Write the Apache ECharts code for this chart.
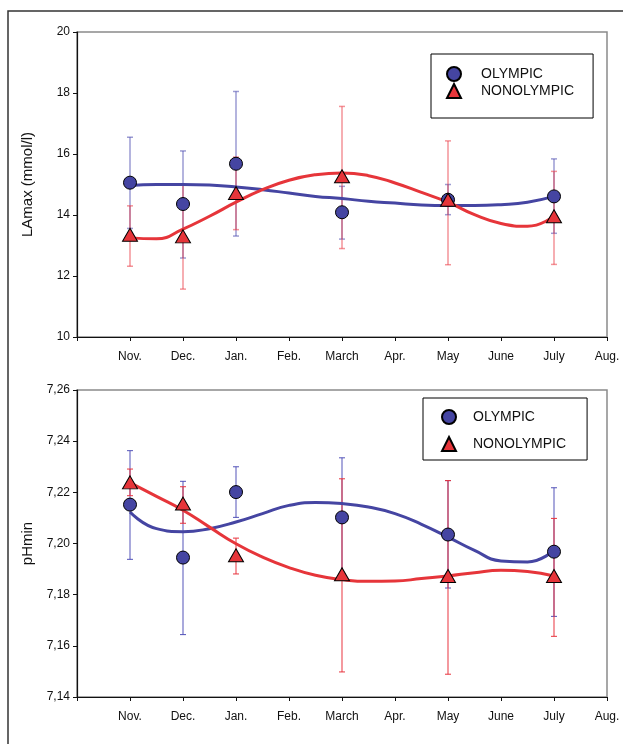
<!DOCTYPE html>
<html>
<head>
<meta charset="utf-8">
<script src="https://cdn.jsdelivr.net/npm/echarts@6/dist/echarts.min.js"></script>
<style>
html,body{margin:0;padding:0;background:#fff;}
#main{width:623px;height:744px;}
</style>
</head>
<body>
<div id="main"></div>
<script>
// ---------- data ----------
const monthLabels = ['', 'Nov.', 'Dec.', 'Jan.', 'Feb.', 'March', 'Apr.', 'May', 'June', 'July', 'Aug.'];
const obsX = [1, 2, 3, 5, 7, 9];

// LAmax (mmol/l)
const lamaxOly     = [15.06, 14.36, 15.68, 14.09, 14.50, 14.61];
const lamaxOlyLo   = [13.56, 12.59, 13.31, 13.21, 14.01, 13.40];
const lamaxOlyHi   = [16.55, 16.10, 18.05, 14.94, 15.00, 15.84];
const lamaxNon     = [13.35, 13.30, 14.72, 15.27, 14.50, 13.96];
const lamaxNonLo   = [12.32, 11.57, 13.52, 12.90, 12.37, 12.38];
const lamaxNonHi   = [14.30, 15.00, 15.90, 17.56, 16.43, 15.43];

// pHmin
const phOly        = [7.2152, 7.1945, 7.2201, 7.2102, 7.2035, 7.1968];
const phOlyLo      = [7.1938, 7.1644, 7.2102, 7.1869, 7.1826, 7.1715];
const phOlyHi      = [7.2363, 7.2243, 7.2300, 7.2335, 7.2246, 7.2218];
const phNon        = [7.2239, 7.2156, 7.1954, 7.1880, 7.1873, 7.1873];
const phNonLo      = [7.2187, 7.2079, 7.1881, 7.1498, 7.1489, 7.1637];
const phNonHi      = [7.2291, 7.2222, 7.2021, 7.2253, 7.2246, 7.2098];

// fitted trend curves, every half month (Nov. .. July)
const fitX        = [1, 1.5, 2, 2.5, 3, 3.5, 4, 4.5, 5, 5.5, 6, 6.5, 7, 7.5, 8, 8.5, 9];
const lamaxOlyFit = [14.97, 15.00, 15.00, 14.98, 14.92, 14.83, 14.72, 14.61, 14.54, 14.45, 14.39, 14.33, 14.31, 14.31, 14.34, 14.42, 14.61];
const lamaxNonFit = [13.25, 13.22, 13.54, 13.96, 14.42, 14.83, 15.14, 15.32, 15.38, 15.29, 15.05, 14.74, 14.42, 14.01, 13.72, 13.63, 13.96];
const phOlyFit    = [7.2123, 7.2058, 7.2046, 7.2058, 7.2084, 7.2117, 7.2149, 7.2160, 7.2156, 7.2143, 7.2117, 7.2075, 7.2025, 7.1973, 7.1932, 7.1928, 7.1973];
const phNonFit    = [7.2238, 7.2184, 7.2130, 7.2064, 7.1999, 7.1947, 7.1906, 7.1876, 7.1859, 7.1852, 7.1853, 7.1863, 7.1873, 7.1886, 7.1895, 7.1891, 7.1873];

// ---------- styles ----------
const BLUE = '#4545a2', RED = '#e6353a';
const FONT = 'Liberation Sans, Arial, sans-serif';

function pairs(xs, ys) { return xs.map((x, i) => [x, ys[i]]); }

function errSeries(name, idx, xs, lo, hi, color, width) {
  return {
    name: name, type: 'custom', xAxisIndex: idx, yAxisIndex: idx, z: 1,
    silent: true,
    data: xs.map((x, i) => [x, lo[i], hi[i]]),
    encode: { x: 0, y: [1, 2] },
    renderItem: function (params, api) {
      const x = api.value(0);
      const a = api.coord([x, api.value(1)]);
      const b = api.coord([x, api.value(2)]);
      const hw = 3;
      const st = { stroke: color, lineWidth: width };
      return {
        type: 'group',
        children: [
          { type: 'line', shape: { x1: a[0], y1: a[1], x2: b[0], y2: b[1] }, style: st },
          { type: 'line', shape: { x1: a[0] - hw, y1: a[1], x2: a[0] + hw, y2: a[1] }, style: st },
          { type: 'line', shape: { x1: b[0] - hw, y1: b[1], x2: b[0] + hw, y2: b[1] }, style: st }
        ]
      };
    }
  };
}

function fitSeries(name, idx, xs, ys, color) {
  return {
    name: name, type: 'line', xAxisIndex: idx, yAxisIndex: idx, z: 2,
    data: pairs(xs, ys), smooth: 0.5, showSymbol: false, symbol: 'none',
    lineStyle: { color: color, width: 3 }, silent: true
  };
}

function markerSeries(name, idx, xs, ys, color, symbol, size, z) {
  return {
    name: name, type: 'scatter', xAxisIndex: idx, yAxisIndex: idx, z: z,
    data: pairs(xs, ys), symbol: symbol, symbolSize: size,
    itemStyle: { color: color, borderColor: '#000', borderWidth: 1, opacity: 1 }
  };
}

function xAxis(idx) {
  return {
    type: 'value', gridIndex: idx, min: 0, max: 10, interval: 1,
    axisLine: { show: true, onZero: false, lineStyle: { color: '#111', width: 1.2 } },
    axisTick: { show: true, length: 4, lineStyle: { color: '#111' } },
    splitLine: { show: false },
    axisLabel: {
      margin: 14, color: '#111', fontSize: 12, fontFamily: FONT,
      showMinLabel: true, showMaxLabel: true,
      formatter: v => monthLabels[Math.round(v)] || ''
    }
  };
}

function yAxis(idx, min, max, interval, name, fmt) {
  return {
    type: 'value', gridIndex: idx, min: min, max: max, interval: interval,
    name: name, nameLocation: 'middle', nameGap: 42, nameRotate: 90,
    nameTextStyle: { color: '#111', fontSize: 15, fontFamily: FONT },
    axisLine: { show: true, lineStyle: { color: '#111', width: 1.2 } },
    axisTick: { show: true, length: 4, lineStyle: { color: '#111' } },
    splitLine: { show: false },
    axisLabel: { margin: 7, color: '#111', fontSize: 12, fontFamily: FONT, formatter: fmt }
  };
}

const chart = echarts.init(document.getElementById('main'), null, { renderer: 'canvas' });

const option = {
  animation: false,
  backgroundColor: '#fff',
  grid: [
    { left: 77, top: 32, width: 530, height: 305, show: true, borderColor: '#8a8a8a', borderWidth: 1.5, backgroundColor: 'transparent' },
    { left: 77, top: 390, width: 530, height: 307, show: true, borderColor: '#8a8a8a', borderWidth: 1.5, backgroundColor: 'transparent' }
  ],
  xAxis: [xAxis(0), xAxis(1)],
  yAxis: [
    yAxis(0, 10, 20, 2, 'LAmax (mmol/l)', v => String(v)),
    yAxis(1, 7.14, 7.26, 0.02, 'pHmin', v => v.toFixed(2).replace('.', ','))
  ],
  legend: [
    {
      left: 431, top: 54, orient: 'vertical',
      data: ['OLYMPIC', 'NONOLYMPIC'],
      padding: [12, 19, 19, 15], itemGap: 1, itemWidth: 14, itemHeight: 14,
      borderColor: '#000', borderWidth: 1, backgroundColor: '#fff',
      textStyle: { color: '#111', fontSize: 14, lineHeight: 14, fontFamily: FONT, padding: [0, 0, 0, 15] }
    },
    {
      left: 423, top: 398, orient: 'vertical',
      data: ['OLYMPIC', 'NONOLYMPIC'],
      padding: [11, 21, 8, 18], itemGap: 11, itemWidth: 14, itemHeight: 14,
      borderColor: '#000', borderWidth: 1, backgroundColor: '#fff',
      textStyle: { color: '#111', fontSize: 14, lineHeight: 14, fontFamily: FONT, padding: [0, 0, 0, 12] }
    }
  ],
  graphic: [
    {
      type: 'polyline', z: 100,
      shape: { points: [[8, 744], [8, 11], [623, 11]] },
      style: { stroke: '#333', lineWidth: 1.5, fill: null }
    }
  ],
  series: [
    // top chart
    errSeries('errOlyTop', 0, obsX, lamaxOlyLo, lamaxOlyHi, 'rgba(75,75,175,0.55)', 1.5),
    errSeries('errNonTop', 0, obsX, lamaxNonLo, lamaxNonHi, 'rgba(235,60,70,0.55)', 1.5),
    fitSeries('fitOlyTop', 0, fitX, lamaxOlyFit, BLUE),
    fitSeries('fitNonTop', 0, fitX, lamaxNonFit, RED),
    markerSeries('OLYMPIC', 0, obsX, lamaxOly, BLUE, 'circle', 13, 3),
    markerSeries('NONOLYMPIC', 0, obsX, lamaxNon, RED, 'triangle', [15, 13], 4),
    // bottom chart
    errSeries('errOlyBot', 1, obsX, phOlyLo, phOlyHi, 'rgba(70,70,180,0.85)', 1.1),
    errSeries('errNonBot', 1, obsX, phNonLo, phNonHi, 'rgba(232,50,60,0.9)', 1.1),
    fitSeries('fitOlyBot', 1, fitX, phOlyFit, BLUE),
    fitSeries('fitNonBot', 1, fitX, phNonFit, RED),
    markerSeries('OLYMPIC', 1, obsX, phOly, BLUE, 'circle', 13, 3),
    markerSeries('NONOLYMPIC', 1, obsX, phNon, RED, 'triangle', [15, 13], 4)
  ]
};
chart.setOption(option);
</script>
</body>
</html>
